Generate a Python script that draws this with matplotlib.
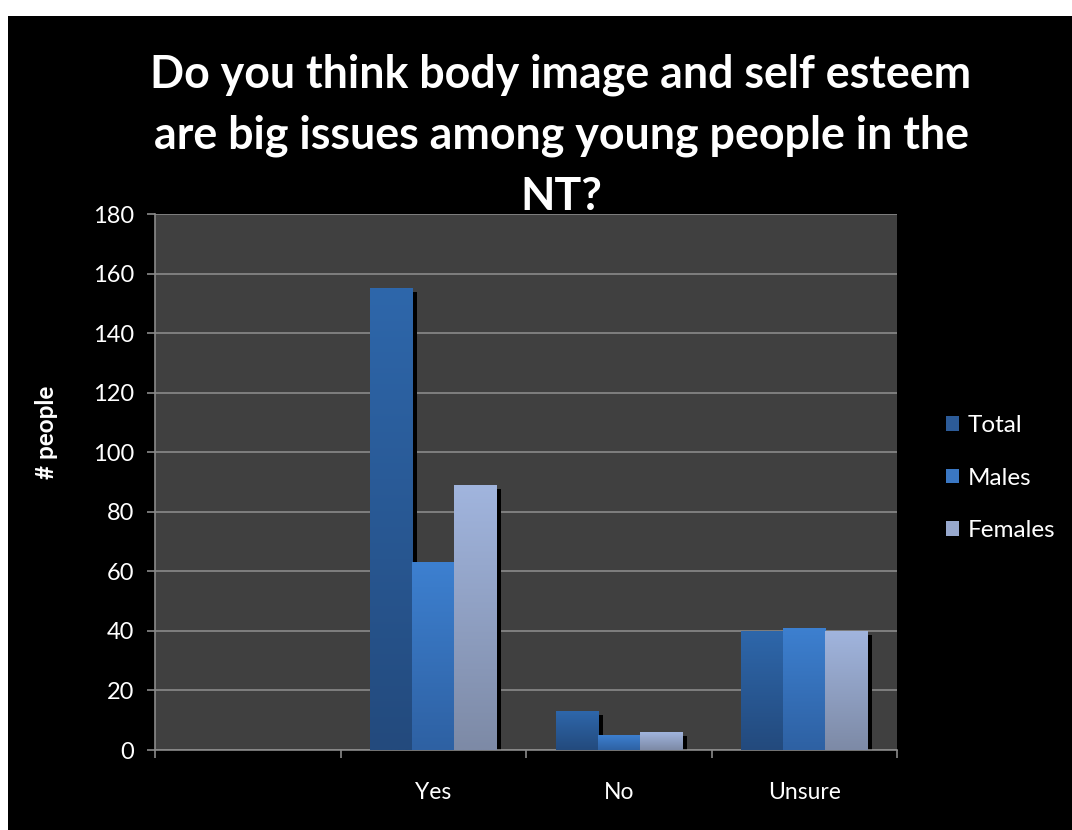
import matplotlib
matplotlib.use('Agg')
import numpy as np
import matplotlib.pyplot as plt
import matplotlib.transforms as mtransforms
from matplotlib.colors import LinearSegmentedColormap
from matplotlib.patches import Rectangle, Patch

# data
categories = ['', 'Yes', 'No', 'Unsure']
series = ['Total', 'Males', 'Females']
total = [0, 155, 13, 40]
males = [0, 63, 5, 41]
females = [0, 89, 6, 40]
yticks = list(range(0, 181, 20))

title = ('Do you think body image and self esteem\n'
         'are big issues among young people in the\n'
         'NT?')

# (top colour, bottom colour) per series
grads = [('#2e67ab', '#234a7d'), ('#3d80d0', '#2e61a3'), ('#a1b5de', '#7d8aa6')]
legend_colors = ['#2c5b98', '#3a77c3', '#97a8cd']

plt.rcParams['font.family'] = ['Lato', 'DejaVu Sans']

fig = plt.figure(figsize=(10.72, 8.30), dpi=100)
fig.patch.set_facecolor('white')
fig.add_artist(Rectangle((8 / 1072, 0), 1 - 8 / 1072, 1 - 16 / 830,
                         transform=fig.transFigure, facecolor='black',
                         edgecolor='none', zorder=-10))

ax = fig.add_axes([155 / 1072, 80 / 830, 742 / 1072, 536 / 830])
ax.set_facecolor('#404040')

x = np.arange(len(categories)) + 0.5
w = 0.227
offsets = [-w, 0, w]
shadow_tr = mtransforms.offset_copy(ax.transData, fig=fig, x=5, y=-4, units='dots')

all_vals = [total, males, females]
for vals, off in zip(all_vals, offsets):
    ax.bar(x + off, vals, w, color='black', transform=shadow_tr, zorder=2, linewidth=0)

grad_img = np.linspace(1, 0, 256).reshape(-1, 1)
for vals, off, (top, bot) in zip(all_vals, offsets, grads):
    cmap = LinearSegmentedColormap.from_list('g', [bot, top])
    bars = ax.bar(x + off, vals, w, color=top, zorder=3, linewidth=0)
    for b in bars:
        h = b.get_height()
        if h <= 0:
            continue
        x0 = b.get_x()
        im = ax.imshow(grad_img, extent=[x0, x0 + b.get_width(), 0, h],
                       cmap=cmap, vmin=0, vmax=1, aspect='auto',
                       interpolation='bilinear', zorder=4)
        im.set_clip_path(b)

ax.set_xlim(0, len(categories))
ax.set_ylim(0, 180)
ax.set_aspect('auto')
ax.set_yticks(yticks)
ax.yaxis.grid(True, color='#8a8a8a', linewidth=1.2)
ax.set_axisbelow(True)

ax.set_xticks(np.arange(len(categories) + 1))
ax.set_xticklabels([])
ax.set_xticks(x, minor=True)
ax.set_xticklabels(categories, minor=True)

for s in ['top', 'right']:
    ax.spines[s].set_visible(False)
for s in ['left', 'bottom']:
    ax.spines[s].set_color('#8a8a8a')
    ax.spines[s].set_linewidth(1.2)

ax.tick_params(axis='both', which='major', color='#8a8a8a', length=6, width=1.2,
               labelcolor='white', labelsize=17, pad=9)
ax.tick_params(axis='x', which='minor', length=0, labelcolor='white',
               labelsize=16.5, pad=23)

fig.text(561 / 1072, 1 - 53 / 830, title, ha='center', va='top', color='white',
         fontsize=32.2, fontweight='bold', linespacing=1.56, zorder=10)
fig.text(47 / 1072, 1 - 432 / 830, '# people', rotation=90, ha='center', va='center',
         color='white', fontsize=17.5, fontweight='bold')

handles = [Patch(facecolor=c, edgecolor='none', label=s) for c, s in zip(legend_colors, series)]
leg = fig.legend(handles=handles, loc='center left', bbox_to_anchor=(946 / 1072, 1 - 478 / 830),
                 bbox_transform=fig.transFigure, frameon=False, fontsize=17.5,
                 handlelength=0.55, handleheight=0.55, handletextpad=0.35,
                 labelspacing=1.3, borderpad=0, borderaxespad=0)
for t in leg.get_texts():
    t.set_color('white')

fig.savefig('out.png', dpi=100, facecolor=fig.get_facecolor())
